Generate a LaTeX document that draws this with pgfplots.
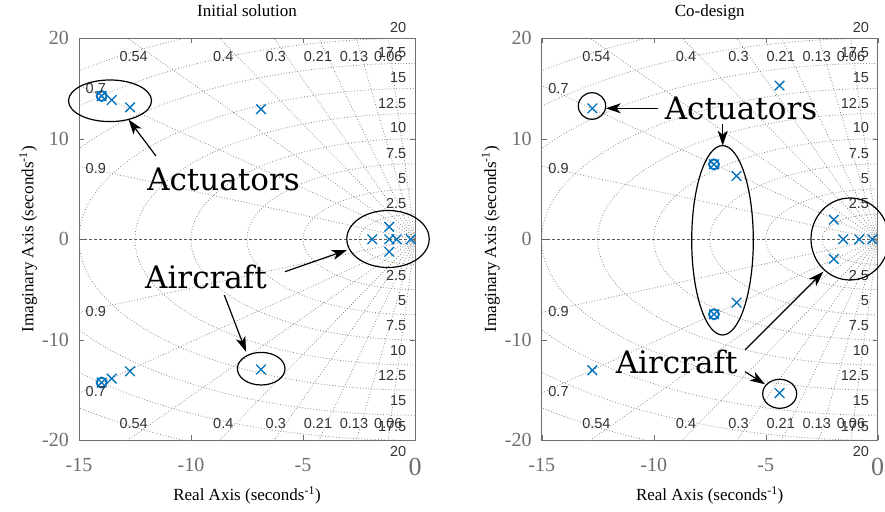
\documentclass[border=0pt]{standalone}
\usepackage{fontspec}
\setmainfont{Liberation Serif}
\newfontfamily\gsans{Liberation Sans}
\newfontfamily\annfont{DejaVu Serif}
\usepackage{pgfplots}
\pgfplotsset{compat=1.18}
\usetikzlibrary{arrows.meta}
\definecolor{mblue}{RGB}{0,114,189}
\definecolor{tickgray}{RGB}{110,110,110}
\definecolor{labgray}{RGB}{50,50,50}
\definecolor{gridgray}{RGB}{135,135,135}

\pgfplotsset{
 pzstyle/.style={
  scale only axis, width=336pt, height=402pt,
  xmin=-15, xmax=0, ymin=-20, ymax=20,
  xtick={-15,-10,-5,0}, xticklabels={-15,-10,-5,{\fontsize{26}{26}\selectfont 0}},
  ytick={-20,-10,0,10,20}, yticklabels={-20,-10,0,10,20},
  tick align=inside, major tick length=5pt,
  axis line style={tickgray, line width=0.8pt}, every tick/.append style={tickgray},
  ticklabel style={font=\fontsize{20}{20}\selectfont, text=tickgray},
  xticklabel style={inner sep=0pt, anchor=north, yshift=-18pt},
  yticklabel style={inner sep=0pt, anchor=east, xshift=-10pt},
  xlabel={Real Axis (seconds\textsuperscript{-1})},
  ylabel={Imaginary Axis (seconds\textsuperscript{-1})},
  label style={font=\fontsize{17}{17}\selectfont},
  xlabel style={at={(axis description cs:0.5,-0.150)}, anchor=base},
  ylabel style={at={(axis description cs:-0.136,0.5)}, anchor=base},
  title style={at={(axis description cs:0.5,1)}, anchor=base, yshift=15.6pt, font=\fontsize{17}{17}\selectfont},
 },
 pole/.style={only marks, mark=x, mark size=6.8pt, mblue, line width=1.3pt},
 zero/.style={only marks, mark=o, mark size=5pt, mblue, line width=1.9pt},
}
\tikzset{
 gridline/.style={gridgray, dotted, line width=0.8pt},
 axisdash/.style={black!65, dash pattern=on 3pt off 2pt, line width=0.6pt},
 ann/.style={black, line width=1.2pt},
 annarrow/.style={black, line width=1.2pt, -{Stealth[length=15pt, width=10pt, inset=4pt]}},
 anntext/.style={font=\annfont\fontsize{31}{31}\selectfont, anchor=base, inner sep=0pt},
}

\newcommand{\sgrid}{%
  \pgfplotsinvokeforeach{2.5,5,7.5,10,12.5,15,17.5,20,22.5}{
    \draw[gridline] (axis cs:0,0) ellipse [x radius=##1, y radius=##1];
  }
  \pgfplotsinvokeforeach{0.06,0.13,0.21,0.3,0.4,0.54,0.7,0.9}{
    \draw[gridline] (axis cs:{-40*##1},{40*sqrt(1-##1*##1)}) -- (axis cs:0,0) -- (axis cs:{-40*##1},{-40*sqrt(1-##1*##1)});
  }
  \draw[axisdash] (axis cs:-15,0) -- (axis cs:0,0);
}

\newcommand{\gridlabels}{%
 \begin{scope}[x=1pt, y=1pt, every node/.style={font=\gsans\fontsize{14.5}{14.5}\selectfont, text=labgray, inner sep=0pt}]
 \foreach \xx/\lab in {133.7/0.54, 223.3/0.4, 275.8/0.3, 318/0.21, 354/0.13, 388.3/0.06}{
   \node at (\xx,454.7) {\lab}; \node at (\xx,87.7) {\lab};}
 \node at (95.8,422.7) {0.7}; \node at (95.8,119.3) {0.7};
 \node at (95.8,342.2) {0.9}; \node at (95.8,199.3) {0.9};
 \foreach \dy/\lab in {36/2.5,61/5,86/7.5,111.5/10,136/12.5,161.5/15,187/17.5,212/20}{
   \node[anchor=east] at (406.5,271.7+\dy) {\lab};
   \node[anchor=east] at (406.5,271.7-\dy) {\lab};}
 \end{scope}}

\begin{document}
\begin{tikzpicture}
% ---------------- left: initial solution
\begin{axis}[pzstyle, at={(79pt,70.7pt)}, anchor=south west, title={Initial solution}]
\sgrid
\addplot[pole] coordinates {
 (-13.99,14.26) (-13.54,13.86) (-12.72,13.13) (-6.875,12.95)
 (-13.99,-14.26) (-13.54,-13.86) (-12.72,-13.13) (-6.875,-12.95)
 (-1.91,0) (-1.15,1.24) (-1.15,0) (-1.15,-1.24) (-0.82,0) (-0.19,0)
};
\addplot[zero] coordinates {(-13.99,14.26) (-13.99,-14.26)};
\end{axis}
% ---------------- right: co-design
\begin{axis}[pzstyle, at={(541.7pt,70.7pt)}, anchor=south west, title={Co-design}]
\sgrid
\addplot[pole] coordinates {
 (-12.74,13.03) (-12.74,-13.03) (-4.38,15.3) (-4.38,-15.3)
 (-7.31,7.46) (-7.31,-7.46) (-6.30,6.30) (-6.30,-6.30)
 (-1.96,1.95) (-1.96,-1.95) (-1.54,0) (-0.82,0) (-0.24,0)
};
\addplot[zero] coordinates {(-7.31,7.46) (-7.31,-7.46)};
\end{axis}

\gridlabels
\begin{scope}[xshift=462.7pt]\gridlabels\end{scope}

\begin{scope}[x=1pt, y=1pt]
% ---------------- annotations left
\node[anntext] at (223.5,320.3) {Actuators};
\node[anntext] at (206,222) {Aircraft};
\draw[ann] (110,410.2) ellipse [x radius=41.5, y radius=20.8];
\draw[annarrow] (156,355) -- (128.5,391.5);
\draw[ann] (388,272) ellipse [x radius=41.2, y radius=28.5];
\draw[annarrow] (285,239.3) -- (347,261);
\draw[ann] (261.2,142.3) ellipse [x radius=23.8, y radius=16.3];
\draw[annarrow] (224.3,216) -- (246,159.3);
% ---------------- annotations right
\node[anntext] at (741,391.7) {Actuators};
\node[anntext] at (676.7,137.7) {Aircraft};
\draw[ann] (592,405) ellipse [x radius=13.7, y radius=13.3];
\draw[annarrow] (658.3,402.7) -- (605.7,402.7);
\draw[annarrow] (722.7,387) -- (722.7,365.3);
\draw[ann] (722.5,270.7) ellipse [x radius=30.8, y radius=94.7];
\draw[ann] (850,272) ellipse [x radius=39, y radius=41];
\draw[annarrow] (745,161) -- (823.3,239.3);
\draw[ann] (779.7,117.2) ellipse [x radius=17, y radius=14.5];
\draw[annarrow] (745,139.3) -- (765,126.7);
\end{scope}

\pgfresetboundingbox
\useasboundingbox (0pt,0pt) rectangle (885pt,511pt);
\end{tikzpicture}
\end{document}
